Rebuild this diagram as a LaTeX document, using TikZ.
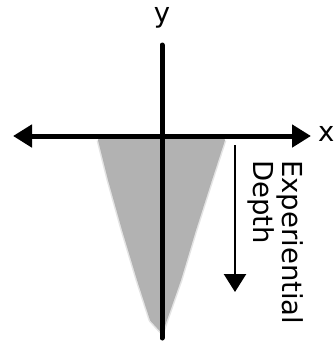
\documentclass[tikz,border=0pt]{standalone}
\usepackage{fontspec}
\setmainfont{DejaVu Sans}
\usetikzlibrary{arrows.meta}

\begin{document}
\begin{tikzpicture}[
    x=1pt, y=-1pt,
    font=\fontsize{27.5}{29}\selectfont,
    asse/.style={line width=5pt,
      {Triangle[length=19pt,width=22pt]}-{Triangle[length=19pt,width=22pt]}},
    assey/.style={line width=5pt, line cap=round},
    cuneo/.style={fill=black!30, draw=black!30, line width=2pt, line join=round},
    alone/.style={draw=black!30, line width=5pt, line join=round, opacity=0.35},
    freccia/.style={line width=2.5pt, -{Triangle[length=18pt,width=22pt]}}]

  \useasboundingbox (0,0) rectangle (334,341);

  % ---- il cuneo grigio (bordi sfumati) --------------------------------------
  \draw[alone] (99,140) -- (109,180) -- (123,230) -- (138,280) -- (151,320)
     -- (162,332) -- (166,320) -- (180,280) -- (195,230) -- (211,180)
     -- (224,140);
  \filldraw[cuneo] (99,140) -- (109,180) -- (123,230) -- (138,280)
     -- (151,320) -- (162,332) -- (166,320) -- (180,280) -- (195,230)
     -- (211,180) -- (224,140) -- cycle;

  % ---- gli assi -------------------------------------------------------------
  \coordinate (xsx)  at (13,136);
  \coordinate (xdx)  at (311,136);
  \coordinate (ysu)  at (162,45);
  \coordinate (ygiu) at (162,338);
  \draw[asse]  (xsx) -- (xdx);
  \draw[assey] (ysu) -- (ygiu);

  \node[inner sep=0]              (ly) at (162,18)  {y};
  \node[inner sep=0, anchor=west] (lx) at (318,134) {x};

  % ---- la profondita' -------------------------------------------------------
  \coordinate (dsu)  at (235,145);
  \coordinate (dgiu) at (235,292);
  \draw[freccia] (dsu) -- (dgiu);
  \node[rotate=-90, anchor=north west, inner sep=0, align=left] (prof)
     at (304,160) {Experiential\\Depth};

\end{tikzpicture}
\end{document}
